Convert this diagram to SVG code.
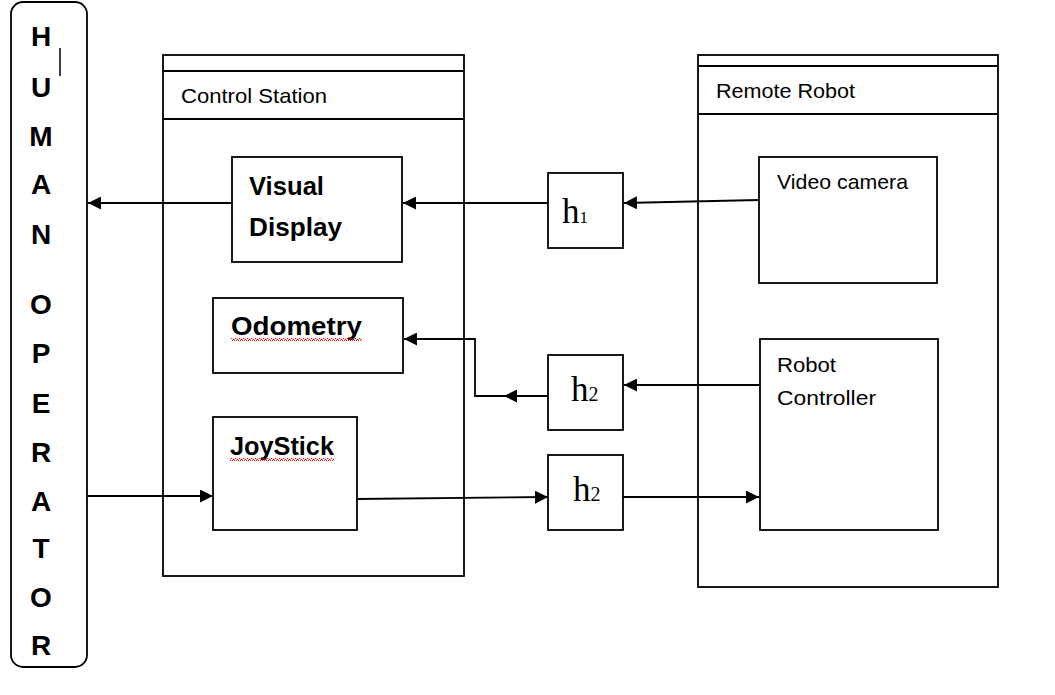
<svg xmlns="http://www.w3.org/2000/svg" width="1055" height="695" viewBox="0 0 1055 695">
<style>
.box{fill:#fff;stroke:#000;stroke-width:1.8}
.ln{fill:none;stroke:#000;stroke-width:1.8}
.big{font-family:"Liberation Sans",Arial,sans-serif;font-weight:bold;font-size:28px;fill:#000;text-anchor:middle}
.bold{font-family:"Liberation Sans",Arial,sans-serif;font-weight:bold;font-size:25px;fill:#000}
.reg{font-family:"Liberation Sans",Arial,sans-serif;font-size:21px;fill:#000}
.h{font-family:"Liberation Serif","Times New Roman",serif;font-size:35px;fill:#000}
.arr{fill:none;stroke:#000;stroke-width:1.8;marker-end:url(#ah)}
</style>
<defs>
<marker id="ah" markerUnits="userSpaceOnUse" markerWidth="14" markerHeight="13" refX="13" refY="6.5" orient="auto">
<path d="M0,0 L13,6.5 L0,13 z" fill="#000"/>
</marker>
<pattern id="squig" patternUnits="userSpaceOnUse" width="4" height="3">
<polyline points="0,2.5 1,0.5 2,0.5 3,2.5 4,2.5" fill="none" stroke="#e00000" stroke-width="0.9"/>
</pattern>
</defs>
<rect width="1055" height="695" fill="#fff"/>

<g id="human-operator">
<rect class="box" x="11" y="2" width="76" height="665" rx="12"/>
<text class="big" x="41" y="46">H</text>
<text class="big" x="41" y="97">U</text>
<text class="big" x="41" y="146">M</text>
<text class="big" x="41" y="194">A</text>
<text class="big" x="41" y="244">N</text>
<text class="big" x="41" y="314">O</text>
<text class="big" x="41" y="363">P</text>
<text class="big" x="41" y="413">E</text>
<text class="big" x="41" y="462">R</text>
<text class="big" x="41" y="511">A</text>
<text class="big" x="41" y="558">T</text>
<text class="big" x="41" y="607">O</text>
<text class="big" x="41" y="655">R</text>
<line x1="60" y1="48" x2="60" y2="76" stroke="#000" stroke-width="1.5"/>
</g>

<g id="control-station">
<rect class="box" x="163" y="55" width="301" height="521"/>
<line class="ln" x1="163" y1="71" x2="464" y2="71"/>
<line class="ln" x1="163" y1="119" x2="464" y2="119"/>
<text class="reg" x="181" y="103" textLength="146" lengthAdjust="spacingAndGlyphs">Control Station</text>
</g>

<g id="remote-robot">
<rect class="box" x="698" y="55" width="300" height="532"/>
<line class="ln" x1="698" y1="66" x2="998" y2="66"/>
<line class="ln" x1="698" y1="114" x2="998" y2="114"/>
<text class="reg" x="716" y="98" textLength="139" lengthAdjust="spacingAndGlyphs">Remote Robot</text>
</g>

<g id="visual-display">
<rect class="box" x="232" y="157" width="170" height="105"/>
<text class="bold" x="249" y="195" textLength="75" lengthAdjust="spacingAndGlyphs">Visual</text>
<text class="bold" x="249" y="236" textLength="93" lengthAdjust="spacingAndGlyphs">Display</text>
</g>

<g id="odometry">
<rect class="box" x="213" y="298" width="190" height="75"/>
<text class="bold" x="231" y="335" textLength="131" lengthAdjust="spacingAndGlyphs">Odometry</text>
<rect x="231" y="338" width="131" height="3" fill="url(#squig)"/>
</g>

<g id="joystick">
<rect class="box" x="213" y="417" width="144" height="113"/>
<text class="bold" x="230" y="455" textLength="104" lengthAdjust="spacingAndGlyphs">JoyStick</text>
<rect x="230" y="458" width="104" height="3" fill="url(#squig)"/>
</g>

<g id="video-camera">
<rect class="box" x="759" y="157" width="178" height="126"/>
<text class="reg" x="777" y="189" textLength="131" lengthAdjust="spacingAndGlyphs">Video camera</text>
</g>

<g id="robot-controller">
<rect class="box" x="760" y="339" width="178" height="191"/>
<text class="reg" x="777" y="372" textLength="59" lengthAdjust="spacingAndGlyphs">Robot</text>
<text class="reg" x="777" y="405" textLength="99" lengthAdjust="spacingAndGlyphs">Controller</text>
</g>

<g id="h1">
<rect class="box" x="548" y="173" width="75" height="75"/>
<text class="h" x="562" y="223">h<tspan font-size="17">1</tspan></text>
</g>

<g id="h2-feedback">
<rect class="box" x="548" y="355" width="75" height="75"/>
<text class="h" x="571" y="401">h<tspan font-size="20">2</tspan></text>
</g>

<g id="h2-command">
<rect class="box" x="548" y="455" width="75" height="75"/>
<text class="h" x="573" y="501">h<tspan font-size="20">2</tspan></text>
</g>

<g id="connectors">
<line class="arr" x1="232" y1="203" x2="88" y2="203"/>
<line class="arr" x1="548" y1="203" x2="403" y2="203"/>
<line class="arr" x1="759" y1="200" x2="624" y2="203"/>
<line class="arr" x1="760" y1="385" x2="624" y2="385"/>
<line class="arr" x1="548" y1="396" x2="504" y2="396"/>
<polyline class="arr" points="504,396 475,396 475,339 404,339"/>
<line class="arr" x1="87" y1="496" x2="213" y2="496"/>
<line class="arr" x1="357" y1="499" x2="548" y2="497"/>
<line class="arr" x1="623" y1="497" x2="759" y2="497"/>
</g>
</svg>
